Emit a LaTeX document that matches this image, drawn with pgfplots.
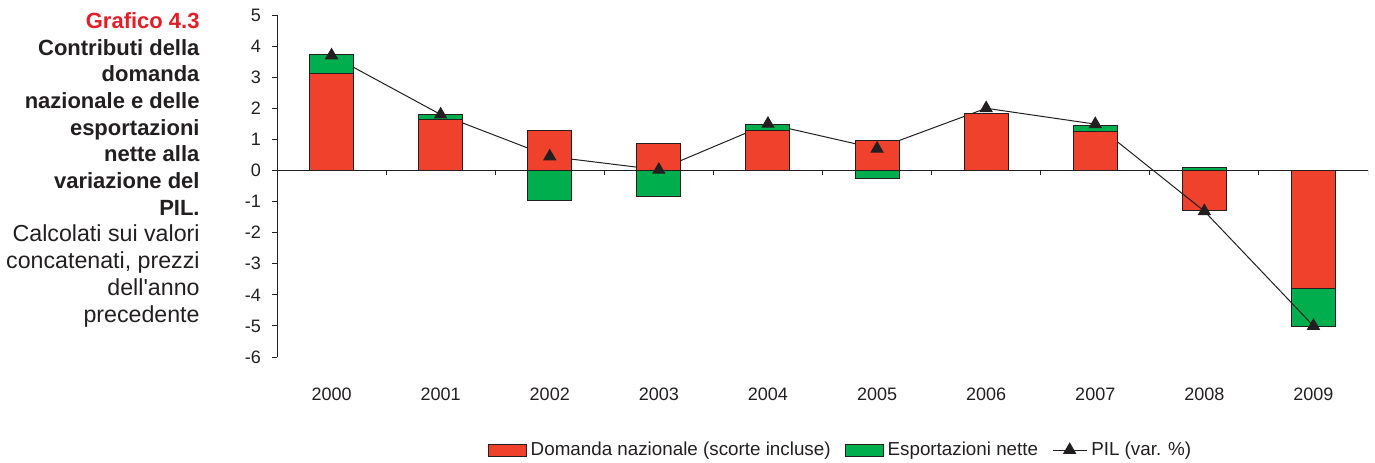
\documentclass[border=0pt]{standalone}
\usepackage{fontspec}
\setmainfont{Liberation Sans}[Ligatures=TeXOff]
\usepackage{pgfplots}
\usepackage{pgfplotstable}
\pgfplotsset{compat=1.18}
\definecolor{domred}{RGB}{239,65,44}
\definecolor{espgreen}{RGB}{0,174,77}
\definecolor{titred}{RGB}{228,30,38}
\definecolor{txt}{RGB}{35,31,32}

% x: 0=2000 ... 9=2009 ; positive and negative contributions split as in the chart
\pgfplotstableread{
x dpos epos dneg eneg pil
0 3.11 0.61 0.00 0.00 3.70
1 1.63 0.18 0.00 0.00 1.80
2 1.30 0.00 0.00 -0.97 0.45
3 0.86 0.00 0.00 -0.83 0.02
4 1.27 0.21 0.00 0.00 1.50
5 0.95 0.00 0.00 -0.27 0.70
6 1.84 0.00 0.00 0.00 2.00
7 1.26 0.20 0.00 0.00 1.49
8 0.00 0.11 -1.30 0.00 -1.31
9 0.00 0.00 -3.81 -1.20 -5.00
}\data

\pgfplotsset{
  base/.style={
    scale only axis, width=545.5pt, height=171pt,
    at={(138.5pt,-178.5pt)}, anchor=south west,
    xmin=-0.5, xmax=9.5, ymin=-6, ymax=5,
    ybar stacked, bar width=22pt,
  },
  barstyle/.style={draw=txt, line width=0.5pt, fill=#1},
  boxlegend/.style={legend image code/.code={\draw[##1] (0pt,-3pt) rectangle (19pt,3pt);}},
}

\begin{document}
\begin{tikzpicture}[x=1pt,y=1pt]
\path[use as bounding box] (0,0) rectangle (687.5,-231);

\node[anchor=north east, align=right, inner sep=0pt, text=txt,
      font=\fontsize{11}{13.35}\selectfont] at (100,-6)
 {\textcolor{titred}{\textbf{Grafico 4.3}}\\
  \textbf{Contributi della}\\
  \textbf{domanda}\\
  \textbf{nazionale e delle}\\
  \textbf{esportazioni}\\
  \textbf{nette alla}\\
  \textbf{variazione del}\\
  \textbf{PIL.}\\
  \fontsize{11.6}{13.35}\selectfont Calcolati sui valori\\
  \fontsize{11.6}{13.35}\selectfont concatenati, prezzi\\
  \fontsize{11.6}{13.35}\selectfont dell'anno\\
  \fontsize{11.6}{13.35}\selectfont precedente};

% negative parts (stacked downward)
\begin{axis}[base, hide axis]
\addplot[barstyle=domred] table[x=x,y=dneg]{\data};
\addplot[barstyle=espgreen] table[x=x,y=eneg]{\data};
\end{axis}

% positive parts, axes, line and legend
\begin{axis}[base,
  axis y line*=left,
  axis x line*=bottom,
  x axis line style={draw=none},
  y axis line style={draw=txt, line width=0.5pt},
  xtick={0,...,9},
  xticklabels={2000,2001,2002,2003,2004,2005,2006,2007,2008,2009},
  major x tick style={draw=none},
  ytick={-6,-5,-4,-3,-2,-1,0,1,2,3,4,5},
  yticklabels={-6,-5,-4,-3,-2,-1,0,1,2,3,4,5},
  tick align=outside,
  major tick length=2.5pt,
  major y tick style={draw=txt, line width=0.5pt},
  tick label style={font=\fontsize{9}{10}\selectfont, text=txt},
  xticklabel style={yshift=-9.5pt},
  yticklabel style={xshift=-2pt},
  legend columns=3,
  legend style={draw=none, fill=none, at={(0.516,-0.272)}, anchor=center,
    font=\fontsize{9.4}{10}\selectfont, text=txt,
    nodes={inner sep=0.5pt},
    /tikz/every odd column/.append style={column sep=1.5pt},
    /tikz/every even column/.append style={column sep=6.5pt}},
]
\draw[txt, line width=0.5pt] (axis cs:-0.5,0) -- (axis cs:9.5,0);
\pgfplotsinvokeforeach{-0.5,0.5,1.5,2.5,3.5,4.5,5.5,6.5,7.5,8.5,9.5}{
  \draw[txt, line width=0.5pt] (axis cs:#1,0) -- ([yshift=-2.5pt]axis cs:#1,0);
}
\addplot[barstyle=domred, boxlegend] table[x=x,y=dpos]{\data};
\addlegendentry{Domanda nazionale (scorte incluse)}
\addplot[barstyle=espgreen, boxlegend] table[x=x,y=epos]{\data};
\addlegendentry{Esportazioni nette}
\addplot[sharp plot, stack plots=false, line legend, draw=txt, line width=0.5pt,
  mark=triangle*, mark size=3.4pt, mark options={fill=txt, draw=txt}]
  table[x=x,y=pil]{\data};
\addlegendentry{PIL (var. \%)}
\end{axis}
\end{tikzpicture}
\end{document}
